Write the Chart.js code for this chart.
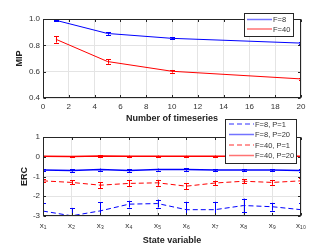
<!DOCTYPE html>
<html><head><meta charset="utf-8">
<script src="https://cdn.jsdelivr.net/npm/chart.js@4.4.0/dist/chart.umd.min.js"></script>
<style>
html,body{margin:0;padding:0;background:#fff;width:332px;height:249px;overflow:hidden}
#c1{position:absolute;left:0;top:0}
#c2{position:absolute;left:0;top:115px}
</style></head><body>
<canvas id="c1" width="332" height="125"></canvas>
<canvas id="c2" width="332" height="134"></canvas>
<script>
// ---- Data: top panel (MIP vs number of timeseries) ----
const timeseries = [1, 5, 10, 20];
const mipF8 = [0.99, 0.89, 0.853, 0.817];
const mipF8Err = [0.005, 0.01, 0.008, 0.005];
const mipF40 = [0.846, 0.677, 0.603, 0.545];
const mipF40Err = [0.025, 0.017, 0.01, 0.006];
const mipXTicks = [0, 2, 4, 6, 8, 10, 12, 14, 16, 18, 20];
const mipYTicks = [0.4, 0.6, 0.8, 1];

// ---- Data: bottom panel (ERC per state variable) ----
const stateVars = ['x₁','x₂','x₃','x₄','x₅','x₆','x₇','x₈','x₉','x₁₀'];
const ercF8P1 = [-2.75, -2.99, -2.74, -2.4, -2.37, -2.68, -2.68, -2.47, -2.53, -2.68];
const ercF8P1Err = [0.4, 0.4, 0.43, 0.17, 0.2, 0.4, 0.4, 0.35, 0.2, 0.35];
const ercF8P20 = [-0.67, -0.70, -0.65, -0.70, -0.65, -0.65, -0.67, -0.67, -0.67, -0.70];
const ercF8P20Err = [0.06, 0.06, 0.05, 0.06, 0.05, 0.06, 0.05, 0.05, 0.05, 0.06];
const ercF40P1 = [-1.22, -1.30, -1.44, -1.35, -1.32, -1.49, -1.33, -1.24, -1.30, -1.22];
const ercF40P1Err = [0.08, 0.1, 0.15, 0.15, 0.15, 0.15, 0.12, 0.1, 0.12, 0.12];
const ercF40P20 = [0.03, 0.01, 0.04, 0.03, 0.03, 0.02, 0.03, 0.03, 0.03, 0.02];
const ercF40P20Err = [0.03, 0.03, 0.03, 0.03, 0.03, 0.03, 0.03, 0.03, 0.03, 0.03];
const ercYTicks = [-3, -2, -1, 0, 1];

const BLUE = '#0000ff', RED = '#ff0000';
const AXC = '#262626', GRID = '#e4e4e4', TXT = '#333333';
Chart.defaults.font.family = '"Liberation Sans", Arial, sans-serif';
Chart.defaults.color = TXT;

const errorBars = {
  id: 'errorBars',
  afterDatasetsDraw(chart) {
    const {ctx, chartArea: a} = chart;
    const ys = chart.scales.y;
    ctx.save();
    ctx.beginPath(); ctx.rect(a.left, a.top, a.right - a.left, a.bottom - a.top); ctx.clip();
    chart.data.datasets.forEach((ds, i) => {
      if (!ds.err) return;
      const meta = chart.getDatasetMeta(i);
      ctx.strokeStyle = ds.borderColor; ctx.lineWidth = 1; ctx.setLineDash([]);
      meta.data.forEach((el, j) => {
        const v = ds.data[j]; const val = typeof v === 'object' ? v.y : v;
        const e = ds.err[j];
        const x = Math.round(el.x) + 0.5;
        const y1 = ys.getPixelForValue(val + e), y2 = ys.getPixelForValue(val - e);
        ctx.beginPath();
        ctx.moveTo(x, y1); ctx.lineTo(x, y2);
        ctx.moveTo(x - 2.5, Math.round(y1) + 0.5); ctx.lineTo(x + 2.5, Math.round(y1) + 0.5);
        ctx.moveTo(x - 2.5, Math.round(y2) + 0.5); ctx.lineTo(x + 2.5, Math.round(y2) + 0.5);
        ctx.stroke();
      });
    });
    ctx.restore();
  }
};

const frame = {
  id: 'frame',
  afterDatasetsDraw(chart) {
    const {ctx, chartArea: a, scales} = chart;
    ctx.save();
    ctx.strokeStyle = AXC; ctx.lineWidth = 1; ctx.setLineDash([]);
    const L = Math.round(a.left) + 0.5, R = Math.round(a.right) - 0.5;
    const T = Math.round(a.top) + 0.5, B = Math.round(a.bottom) - 0.5;
    ctx.strokeRect(L, T, R - L, B - T);
    const tl = 2.5;
    ctx.beginPath();
    scales.x.ticks.forEach((t, i) => {
      const x = Math.round(scales.x.getPixelForTick(i)) + 0.5;
      ctx.moveTo(x, B); ctx.lineTo(x, B - tl);
      ctx.moveTo(x, T); ctx.lineTo(x, T + tl);
    });
    scales.y.ticks.forEach((t, i) => {
      const y = Math.round(scales.y.getPixelForTick(i)) + 0.5;
      ctx.moveTo(L, y); ctx.lineTo(L + tl, y);
      ctx.moveTo(R, y); ctx.lineTo(R - tl, y);
    });
    ctx.stroke();
    ctx.restore();
  }
};

const boxLegend = {
  id: 'boxLegend',
  afterDraw(chart, args, o) {
    const {ctx} = chart;
    ctx.save();
    ctx.fillStyle = '#fff'; ctx.fillRect(o.left, o.top, o.width, o.height);
    ctx.strokeStyle = AXC; ctx.lineWidth = 1; ctx.setLineDash([]);
    ctx.strokeRect(o.left + 0.5, o.top + 0.5, o.width, o.height);
    ctx.font = o.fontSize + 'px "Liberation Sans", Arial, sans-serif';
    ctx.textBaseline = 'middle'; ctx.textAlign = 'left'; ctx.fillStyle = TXT;
    chart.data.datasets.forEach((ds, i) => {
      const y = o.firstRow + i * o.rowH;
      ctx.strokeStyle = ds.borderColor; ctx.globalAlpha = 0.55;
      ctx.lineWidth = 1.5; ctx.setLineDash(ds.borderDash || []);
      ctx.beginPath(); ctx.moveTo(o.lineX0, y); ctx.lineTo(o.lineX1, y); ctx.stroke();
      ctx.globalAlpha = 1; ctx.setLineDash([]);
      ctx.fillText(ds.label, o.textX, y + 0.5);
    });
    ctx.restore();
  }
};

function yAxis(ticks, min, max, title, titlePad) {
  return {
    type: 'linear', min, max,
    afterBuildTicks(s) { s.ticks = ticks.map(v => ({value: v})); },
    afterFit(s) { s.width = 43; },
    grid: {color: GRID, drawTicks: false},
    border: {display: false},
    ticks: {padding: 3, font: {size: 8}, color: TXT},
    title: {display: true, text: title, font: {size: 9, weight: 'bold'}, color: '#222', padding: {top: titlePad, bottom: 0}}
  };
}

// ---- Top chart ----
new Chart(document.getElementById('c1'), {
  type: 'line',
  data: {
    datasets: [
      {label: 'F=8', data: timeseries.map((x, i) => ({x, y: mipF8[i]})), err: mipF8Err,
       borderColor: BLUE, borderWidth: 1, pointRadius: 0, tension: 0},
      {label: 'F=40', data: timeseries.map((x, i) => ({x, y: mipF40[i]})), err: mipF40Err,
       borderColor: RED, borderWidth: 1, pointRadius: 0, tension: 0}
    ]
  },
  options: {
    responsive: false, animation: false, devicePixelRatio: 1,
    layout: {padding: {top: 19, right: 31, left: 0, bottom: 0}},
    plugins: {legend: {display: false}, tooltip: {enabled: false},
      boxLegend: {left: 244, top: 13, width: 49, height: 23, firstRow: 19.5, rowH: 9.5,
                  lineX0: 247, lineX1: 272, textX: 273, fontSize: 7.5}},
    scales: {
      x: {
        type: 'linear', min: 0, max: 20,
        afterBuildTicks(s) { s.ticks = mipXTicks.map(v => ({value: v})); },
        afterFit(s) { s.height = 27; },
        grid: {color: GRID, drawTicks: false},
        border: {display: false},
        ticks: {padding: 4, font: {size: 8}, color: TXT, maxRotation: 0},
        title: {display: true, text: 'Number of timeseries', font: {size: 9, weight: 'bold'}, color: '#222', padding: {top: 0, bottom: 0.6}}
      },
      y: yAxis(mipYTicks, 0.4, 1, 'MIP', 14.6)
    }
  },
  plugins: [errorBars, frame, boxLegend]
});

// ---- Bottom chart ----
new Chart(document.getElementById('c2'), {
  type: 'line',
  data: {
    labels: stateVars,
    datasets: [
      {label: 'F=8, P=1', data: ercF8P1, err: ercF8P1Err, borderColor: BLUE, borderWidth: 1,
       borderDash: [5, 3], pointRadius: 0, tension: 0},
      {label: 'F=8, P=20', data: ercF8P20, err: ercF8P20Err, borderColor: BLUE, borderWidth: 1.5,
       pointRadius: 0, tension: 0},
      {label: 'F=40, P=1', data: ercF40P1, err: ercF40P1Err, borderColor: RED, borderWidth: 1,
       borderDash: [5, 3], pointRadius: 0, tension: 0},
      {label: 'F=40, P=20', data: ercF40P20, err: ercF40P20Err, borderColor: RED, borderWidth: 1.5,
       pointRadius: 0, tension: 0}
    ]
  },
  options: {
    responsive: false, animation: false, devicePixelRatio: 1,
    layout: {padding: {top: 22, right: 31, left: 0, bottom: 0}},
    plugins: {legend: {display: false}, tooltip: {enabled: false},
      boxLegend: {left: 225, top: 4, width: 71, height: 44, firstRow: 9, rowH: 10.5,
                  lineX0: 229, lineX1: 254, textX: 255, fontSize: 7.5}},
    scales: {
      x: {
        type: 'category', offset: false,
        afterFit(s) { s.height = 33; },
        grid: {color: GRID, drawTicks: false, offset: false},
        border: {display: false},
        ticks: {padding: 5, font: {size: 8}, color: TXT, maxRotation: 0, autoSkip: false},
        title: {display: true, text: 'State variable', font: {size: 9, weight: 'bold'}, color: '#222', padding: {top: 0, bottom: 2.6}}
      },
      y: yAxis(ercYTicks, -3, 1, 'ERC', 19.6)
    }
  },
  plugins: [errorBars, frame, boxLegend]
});
</script>
</body></html>
